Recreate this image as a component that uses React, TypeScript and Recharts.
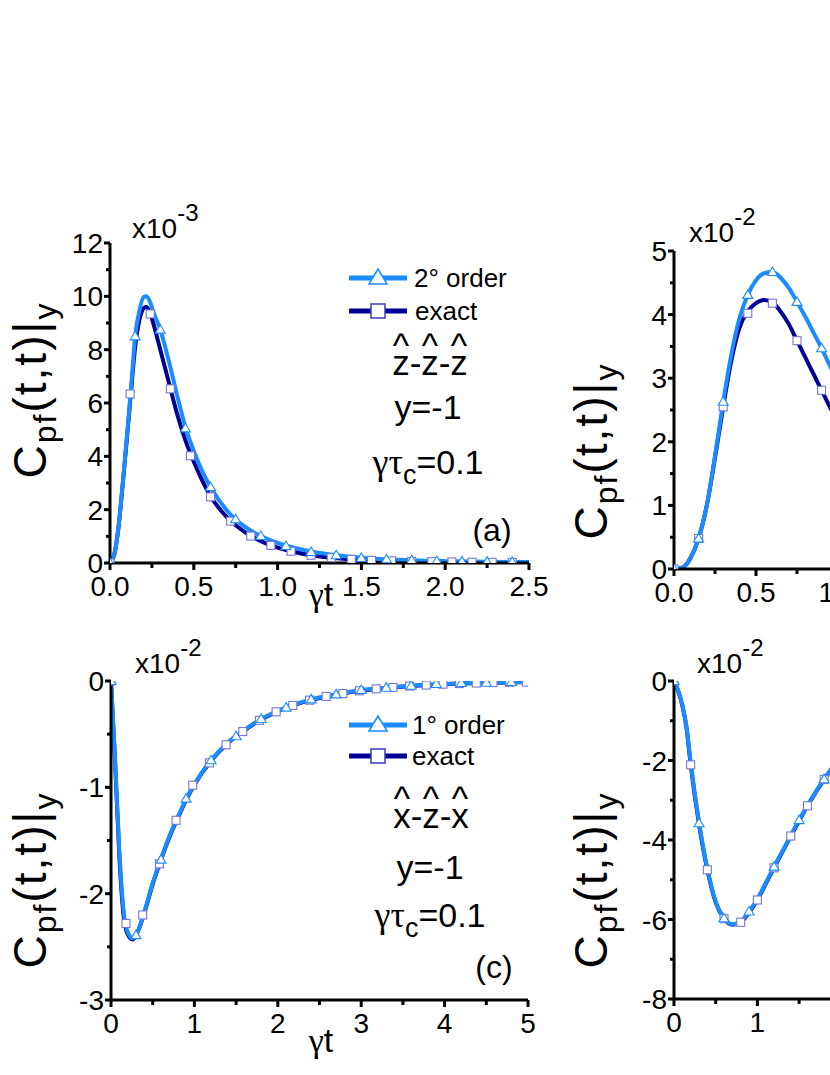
import React from 'react';
import { ComposedChart, Line, Scatter, XAxis, YAxis } from 'recharts';

const LIGHT = '#1a8cff';
const DARK = '#000096';
const SQ_EDGE = '#7676d4';
const FONT = "'Liberation Sans', Arial, sans-serif";
const GREEK = "'Liberation Serif', 'Times New Roman', serif";

// ---- panel (a): z-z-z, values x10^-3
const aTime = [0, 0.025, 0.05, 0.075, 0.1, 0.125, 0.15, 0.175, 0.2, 0.215, 0.235, 0.26, 0.3, 0.35, 0.4, 0.45, 0.5, 0.55, 0.6, 0.7, 0.8, 0.9, 1.0, 1.1, 1.2, 1.35, 1.5, 1.65, 1.8, 2.0, 2.25, 2.5];
const aOrder2 = [0, 0.3, 1.3, 2.9, 4.7, 6.5, 8.5, 9.45, 9.97, 10.0, 9.85, 9.4, 8.75, 7.6, 6.3, 5.1, 4.2, 3.45, 2.85, 1.95, 1.38, 1.01, 0.75, 0.57, 0.43, 0.29, 0.2, 0.14, 0.1, 0.07, 0.05, 0.035];
const aExact = [0, 0.3, 1.3, 2.9, 4.6, 6.4, 8.1, 9.1, 9.55, 9.6, 9.45, 8.95, 8.0, 6.8, 5.6, 4.6, 3.8, 3.1, 2.5, 1.7, 1.18, 0.82, 0.58, 0.41, 0.29, 0.18, 0.12, 0.08, 0.06, 0.04, 0.03, 0.02];
const aTriTime = [0, 0.15, 0.3, 0.45, 0.6, 0.75, 0.9, 1.05, 1.2, 1.35, 1.5, 1.65, 1.8, 1.95, 2.1, 2.25, 2.4];
const aTriValue = [0, 8.5, 8.75, 5.05, 2.85, 1.64, 1.01, 0.64, 0.41, 0.29, 0.19, 0.14, 0.1, 0.075, 0.06, 0.05, 0.04];
const aSqTime = [0, 0.12, 0.24, 0.36, 0.48, 0.6, 0.72, 0.84, 0.96, 1.08, 1.2, 1.32, 1.44, 1.56, 1.68, 1.8, 1.92, 2.04, 2.16, 2.28, 2.4];
const aSqValue = [0, 6.34, 9.34, 6.53, 4.02, 2.48, 1.57, 1.01, 0.66, 0.44, 0.29, 0.2, 0.14, 0.1, 0.08, 0.06, 0.05, 0.04, 0.03, 0.025, 0.02];
const aXTicks = [0, 0.25, 0.5, 0.75, 1, 1.25, 1.5, 1.75, 2, 2.25, 2.5];
const aXMajor = [0, 0.5, 1, 1.5, 2, 2.5];
const aYTicks = [0, 1, 2, 3, 4, 5, 6, 7, 8, 9, 10, 11, 12];
const aYMajor = [0, 2, 4, 6, 8, 10, 12];

// ---- panel (b): values x10^-2 (only the left part is inside the picture)
const bTime = [0, 0.05, 0.1, 0.15, 0.2, 0.25, 0.3, 0.35, 0.4, 0.45, 0.5, 0.55, 0.6, 0.65, 0.7, 0.75, 0.8, 0.85, 0.9, 0.95, 1.0];
const bOrder2 = [0, 0.02, 0.17, 0.48, 1.0, 1.78, 2.63, 3.38, 3.95, 4.31, 4.54, 4.65, 4.67, 4.58, 4.42, 4.2, 3.97, 3.72, 3.47, 3.2, 2.95];
const bExact = [0, 0.02, 0.17, 0.48, 1.0, 1.75, 2.55, 3.28, 3.8, 4.05, 4.18, 4.23, 4.19, 4.05, 3.85, 3.59, 3.33, 3.07, 2.81, 2.55, 2.3];
const bTriTime = [0, 0.15, 0.3, 0.45, 0.6, 0.75, 0.9];
const bTriValue = [0, 0.48, 2.63, 4.31, 4.67, 4.2, 3.47];
const bSqTime = [0, 0.15, 0.3, 0.45, 0.6, 0.75, 0.9];
const bSqValue = [0, 0.48, 2.55, 4.02, 4.18, 3.59, 2.81];
const bXTicks = [0, 0.25, 0.5, 0.75, 1, 1.25, 1.5, 1.75, 2, 2.25, 2.5];
const bXMajor = [0, 0.5, 1, 1.5, 2, 2.5];
const bYTicks = [0, 0.5, 1, 1.5, 2, 2.5, 3, 3.5, 4, 4.5, 5];
const bYMajor = [0, 1, 2, 3, 4, 5];

// ---- panel (c): x-z-x, values x10^-2
const cTime = [0, 0.05, 0.1, 0.15, 0.2, 0.26, 0.32, 0.4, 0.5, 0.6, 0.7, 0.8, 0.9, 1.0, 1.2, 1.4, 1.6, 1.8, 2.0, 2.2, 2.4, 2.7, 3.0, 3.3, 3.6, 4.0, 4.5, 5.0];
const cOrder1 = [0, -0.75, -1.6, -2.15, -2.36, -2.42, -2.36, -2.17, -1.9, -1.67, -1.46, -1.28, -1.11, -0.97, -0.745, -0.58, -0.46, -0.358, -0.28, -0.22, -0.173, -0.126, -0.085, -0.063, -0.044, -0.027, -0.016, -0.008];
const cExact = [0, -0.78, -1.65, -2.2, -2.38, -2.43, -2.36, -2.18, -1.91, -1.68, -1.47, -1.29, -1.12, -0.975, -0.75, -0.585, -0.465, -0.362, -0.285, -0.225, -0.178, -0.13, -0.09, -0.066, -0.047, -0.03, -0.018, -0.01];
const cTriTime = [0, 0.3, 0.6, 0.9, 1.2, 1.5, 1.8, 2.1, 2.4, 2.7, 3.0, 3.3, 3.6, 3.9, 4.2, 4.5, 4.8];
const cTriValue = [0, -2.39, -1.68, -1.106, -0.745, -0.52, -0.358, -0.25, -0.173, -0.126, -0.085, -0.063, -0.044, -0.028, -0.019, -0.016, -0.01];
const cSqTime = [0, 0.18, 0.38, 0.58, 0.78, 0.98, 1.18, 1.38, 1.58, 1.78, 1.98, 2.18, 2.38, 2.58, 2.78, 2.98, 3.18, 3.38, 3.58, 3.78, 3.98, 4.18, 4.38, 4.58, 4.78, 4.98];
const cSqValue = [0, -2.28, -2.2, -1.72, -1.31, -0.98, -0.77, -0.6, -0.475, -0.37, -0.29, -0.23, -0.18, -0.145, -0.118, -0.092, -0.074, -0.061, -0.048, -0.038, -0.03, -0.024, -0.019, -0.015, -0.012, -0.01];
const cXTicks = [0, 0.5, 1, 1.5, 2, 2.5, 3, 3.5, 4, 4.5, 5];
const cXMajor = [0, 1, 2, 3, 4, 5];
const cYTicks = [-3, -2.5, -2, -1.5, -1, -0.5, 0];
const cYMajor = [-3, -2, -1, 0];

// ---- panel (d): values x10^-2 (only the left part is inside the picture)
const dTime = [0, 0.05, 0.1, 0.15, 0.2, 0.3, 0.4, 0.5, 0.6, 0.7, 0.8, 0.9, 1.0, 1.1, 1.2, 1.3, 1.4, 1.5, 1.6, 1.7, 1.8, 1.9, 2.0];
const dOrder1 = [0, -0.25, -0.6, -1.15, -2.05, -3.55, -4.72, -5.55, -5.97, -6.12, -6.05, -5.8, -5.48, -5.08, -4.67, -4.28, -3.88, -3.5, -3.13, -2.79, -2.47, -2.17, -1.9];
const dExact = [0, -0.25, -0.62, -1.18, -2.1, -3.6, -4.75, -5.57, -5.98, -6.13, -6.07, -5.82, -5.51, -5.1, -4.7, -4.3, -3.9, -3.52, -3.14, -2.8, -2.48, -2.18, -1.9];
const dTriTime = [0, 0.3, 0.6, 0.9, 1.2, 1.5, 1.8];
const dTriValue = [0, -3.58, -5.97, -5.8, -4.67, -3.5, -2.47];
const dSqTime = [0, 0.2, 0.4, 0.6, 0.8, 1.0, 1.2, 1.4, 1.6, 1.8];
const dSqValue = [0, -2.11, -4.75, -5.98, -6.07, -5.51, -4.7, -3.9, -3.14, -2.48];
const dXTicks = [0, 0.5, 1, 1.5, 2, 2.5, 3, 3.5, 4, 4.5, 5];
const dXMajor = [0, 1, 2, 3, 4, 5];
const dYTicks = [-8, -7, -6, -5, -4, -3, -2, -1, 0];
const dYMajor = [-8, -6, -4, -2, 0];

const toPoints = (time: number[], value: number[]) => time.map((t, i) => ({ t, v: value[i] }));

function BottomTick(props: any) {
  const { x, y, payload, major, fmt } = props;
  const isMajor = major.includes(payload.value);
  return (
    <g>
      <line x1={x} y1={y} x2={x} y2={y + (isMajor ? 7 : 5)} stroke="#000" strokeWidth={3} />
      {isMajor && (
        <text x={x} y={y + 33} textAnchor="middle" fontFamily={FONT} fontSize={28} fill="#000">
          {fmt(payload.value)}
        </text>
      )}
    </g>
  );
}

function LeftTick(props: any) {
  const { x, y, payload, major } = props;
  const isMajor = major.includes(payload.value);
  return (
    <g>
      <line x1={x - (isMajor ? 6 : 4)} y1={y} x2={x} y2={y} stroke="#000" strokeWidth={3} />
      {isMajor && (
        <text x={x - 7} y={y + 10} textAnchor="end" fontFamily={FONT} fontSize={28} fill="#000">
          {String(payload.value)}
        </text>
      )}
    </g>
  );
}

const Triangle = (props: any) => {
  const { cx, cy } = props;
  if (cx == null || cy == null) return <g />;
  return (
    <path d={`M${cx},${cy - 5} L${cx + 5},${cy + 3.5} L${cx - 5},${cy + 3.5} Z`} fill="#fff" stroke={LIGHT} strokeWidth={1.1} />
  );
};

const Square = (props: any) => {
  const { cx, cy } = props;
  if (cx == null || cy == null) return <g />;
  return <rect x={cx - 4} y={cy - 4} width={8} height={8} fill="#fff" stroke={SQ_EDGE} strokeWidth={1.1} />;
};

type PanelProps = {
  left: number;
  top: number;
  width: number;
  height: number;
  plotLeft: number;
  plotTop: number;
  plotWidth: number;
  plotHeight: number;
  xDomain: [number, number];
  yDomain: [number, number];
  xTicks: number[];
  xMajor: number[];
  yTicks: number[];
  yMajor: number[];
  xFmt: (v: number) => string;
  time: number[];
  light: number[];
  dark: number[];
  triTime: number[];
  triValue: number[];
  sqTime: number[];
  sqValue: number[];
};

function Panel(p: PanelProps) {
  const yAxisW = p.plotLeft - p.left;
  const marginTop = p.plotTop - p.top;
  const marginRight = p.width - yAxisW - p.plotWidth;
  const xAxisH = p.height - marginTop - p.plotHeight;
  const axisLine = { stroke: '#000', strokeWidth: 3 };

  return (
    <div style={{ position: 'absolute', left: p.left, top: p.top }}>
      <ComposedChart width={p.width} height={p.height} margin={{ top: marginTop, right: marginRight, bottom: 0, left: 0 }}>
        <XAxis
          xAxisId="b"
          dataKey="t"
          type="number"
          domain={p.xDomain}
          ticks={p.xTicks}
          interval={0}
          height={xAxisH}
          tickSize={0}
          tickMargin={0}
          tickLine={false}
          axisLine={axisLine}
          allowDataOverflow
          tick={(tp: any) => <BottomTick {...tp} major={p.xMajor} fmt={p.xFmt} />}
        />
        <XAxis xAxisId="top" orientation="top" type="number" domain={p.xDomain} height={0} tick={false} tickLine={false} axisLine={axisLine} />
        <YAxis
          yAxisId="l"
          type="number"
          domain={p.yDomain}
          ticks={p.yTicks}
          interval={0}
          width={yAxisW}
          tickSize={0}
          tickMargin={0}
          tickLine={false}
          axisLine={axisLine}
          allowDataOverflow
          tick={(tp: any) => <LeftTick {...tp} major={p.yMajor} />}
        />
        <YAxis yAxisId="r" orientation="right" type="number" domain={p.yDomain} width={0} tick={false} tickLine={false} axisLine={axisLine} />
        <Line xAxisId="b" yAxisId="l" data={toPoints(p.time, p.dark)} dataKey="v" type="monotone" stroke={DARK} strokeWidth={4} dot={false} activeDot={false} isAnimationActive={false} />
        <Line xAxisId="b" yAxisId="l" data={toPoints(p.time, p.light)} dataKey="v" type="monotone" stroke={LIGHT} strokeWidth={4} dot={false} activeDot={false} isAnimationActive={false} />
        <Scatter xAxisId="b" yAxisId="l" data={toPoints(p.sqTime, p.sqValue)} dataKey="v" shape={Square} isAnimationActive={false} />
        <Scatter xAxisId="b" yAxisId="l" data={toPoints(p.triTime, p.triValue)} dataKey="v" shape={Triangle} isAnimationActive={false} />
      </ComposedChart>
    </div>
  );
}

function YTitle({ x, y }: { x: number; y: number }) {
  return (
    <text x={x} y={y} transform={`rotate(-90, ${x}, ${y})`} textAnchor="middle" fontFamily={FONT} fontSize={46} letterSpacing={2}>
      C<tspan fontSize={32} dy={10}>pf</tspan>
      <tspan dy={-10}>(t,t)|</tspan>
      <tspan fontSize={32} dy={10}>y</tspan>
    </text>
  );
}

function Scale({ x, y, exp }: { x: number; y: number; exp: string }) {
  return (
    <text x={x} y={y} fontFamily={FONT} fontSize={28}>
      x10<tspan fontSize={24} dy={-17}>{exp}</tspan>
    </text>
  );
}

function Hats({ cx, y, letters }: { cx: number; y: number; letters: string[] }) {
  const step = 29;
  return (
    <g fontFamily={FONT} fontSize={35} textAnchor="middle">
      {letters.map((l, i) => (
        <g key={i}>
          <text x={cx + (i - 1) * step} y={y}>{l}</text>
          <text x={cx + (i - 1) * step} y={y - 17}>^</text>
        </g>
      ))}
      <text x={cx - step / 2} y={y}>-</text>
      <text x={cx + step / 2} y={y}>-</text>
    </g>
  );
}

function Params({ cx, yLine, gLine }: { cx: number; yLine: number; gLine: number }) {
  return (
    <g fontFamily={FONT} fontSize={34} textAnchor="middle">
      <text x={cx} y={yLine}>y=-1</text>
      <text x={cx} y={gLine}>
        <tspan fontFamily={GREEK} fontSize={36}>γτ</tspan>
        <tspan fontSize={27} dy={10}>c</tspan>
        <tspan dy={-10}>=0.1</tspan>
      </text>
    </g>
  );
}

function LegendRow({ y, marker, color, label, textX }: { y: number; marker: 'tri' | 'sq'; color: string; label: string; textX: number }) {
  return (
    <g>
      <line x1={349} y1={y} x2={407} y2={y} stroke={color} strokeWidth={5} />
      {marker === 'tri' ? (
        <path d={`M378,${y - 9} L387,${y + 6} L369,${y + 6} Z`} fill="#fff" stroke={LIGHT} strokeWidth={1.5} />
      ) : (
        <rect x={371} y={y - 7} width={14} height={14} fill="#fff" stroke="#3a3ab8" strokeWidth={1.5} />
      )}
      <text x={textX} y={y + 9} fontFamily={FONT} fontSize={26}>{label}</text>
    </g>
  );
}

export default function App() {
  return (
    <div style={{ position: 'absolute', left: 0, top: 0, width: 830, height: 1075, overflow: 'hidden', background: '#fff' }}>
      <Panel
        left={0} top={200} width={560} height={420}
        plotLeft={110} plotTop={243} plotWidth={419} plotHeight={320}
        xDomain={[0, 2.5]} yDomain={[0, 12]}
        xTicks={aXTicks} xMajor={aXMajor} yTicks={aYTicks} yMajor={aYMajor}
        xFmt={(v) => v.toFixed(1)}
        time={aTime} light={aOrder2} dark={aExact}
        triTime={aTriTime} triValue={aTriValue} sqTime={aSqTime} sqValue={aSqValue}
      />
      <Panel
        left={560} top={200} width={560} height={420}
        plotLeft={674} plotTop={251} plotWidth={410} plotHeight={318}
        xDomain={[0, 2.5]} yDomain={[0, 5]}
        xTicks={bXTicks} xMajor={bXMajor} yTicks={bYTicks} yMajor={bYMajor}
        xFmt={(v) => v.toFixed(1)}
        time={bTime} light={bOrder2} dark={bExact}
        triTime={bTriTime} triValue={bTriValue} sqTime={bSqTime} sqValue={bSqValue}
      />
      <Panel
        left={0} top={620} width={560} height={440}
        plotLeft={111} plotTop={681} plotWidth={417} plotHeight={319}
        xDomain={[0, 5]} yDomain={[-3, 0]}
        xTicks={cXTicks} xMajor={cXMajor} yTicks={cYTicks} yMajor={cYMajor}
        xFmt={(v) => String(v)}
        time={cTime} light={cOrder1} dark={cExact}
        triTime={cTriTime} triValue={cTriValue} sqTime={cSqTime} sqValue={cSqValue}
      />
      <Panel
        left={560} top={620} width={560} height={440}
        plotLeft={674} plotTop={681} plotWidth={417} plotHeight={318}
        xDomain={[0, 5]} yDomain={[-8, 0]}
        xTicks={dXTicks} xMajor={dXMajor} yTicks={dYTicks} yMajor={dYMajor}
        xFmt={(v) => String(v)}
        time={dTime} light={dOrder1} dark={dExact}
        triTime={dTriTime} triValue={dTriValue} sqTime={dSqTime} sqValue={dSqValue}
      />
      <svg width={830} height={1075} style={{ position: 'absolute', left: 0, top: 0, pointerEvents: 'none' }}>
        {/* panel (a) */}
        <Scale x={132} y={238} exp="-3" />
        <YTitle x={46} y={390} />
        <text x={321} y={606} textAnchor="middle" fontSize={34} fontFamily={FONT}>
          <tspan fontFamily={GREEK}>γ</tspan>t
        </text>
        <LegendRow y={278} marker="tri" color={LIGHT} label="2° order" textX={414} />
        <LegendRow y={311} marker="sq" color={DARK} label="exact" textX={415} />
        <Hats cx={430} y={375} letters={['z', 'z', 'z']} />
        <Params cx={428} yLine={419} gLine={474} />
        <text x={492} y={541} textAnchor="middle" fontFamily={FONT} fontSize={32}>(a)</text>

        {/* panel (b) */}
        <Scale x={689} y={242} exp="-2" />
        <YTitle x={607} y={451} />

        {/* panel (c) */}
        <Scale x={135} y={673} exp="-2" />
        <YTitle x={46} y={880} />
        <text x={321} y={1052} textAnchor="middle" fontSize={34} fontFamily={FONT}>
          <tspan fontFamily={GREEK}>γ</tspan>t
        </text>
        <LegendRow y={725} marker="tri" color={LIGHT} label="1° order" textX={412} />
        <LegendRow y={756} marker="sq" color={DARK} label=" exact" textX={412} />
        <Hats cx={431} y={828} letters={['x', 'z', 'x']} />
        <Params cx={430} yLine={879} gLine={927} />
        <text x={494} y={978} textAnchor="middle" fontFamily={FONT} fontSize={32}>(c)</text>

        {/* panel (d) */}
        <Scale x={697} y={673} exp="-2" />
        <YTitle x={607} y={880} />
      </svg>
    </div>
  );
}
